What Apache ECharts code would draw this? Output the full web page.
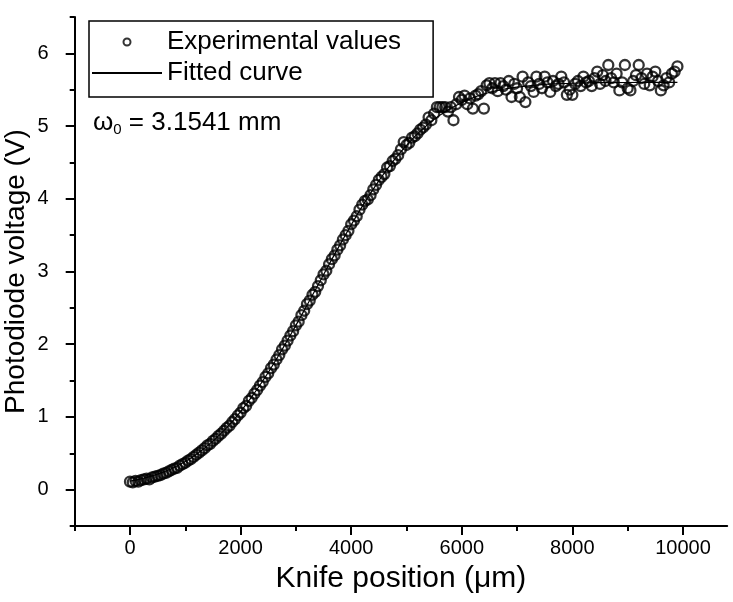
<!DOCTYPE html>
<html>
<head>
<meta charset="utf-8">
<style>html,body{margin:0;padding:0;background:#fff;}#c{width:733px;height:602px;}</style>
<script src="https://cdn.jsdelivr.net/npm/echarts@6/dist/echarts.min.js"></script>
</head>
<body>
<div id="c"></div>
<script>
// Experimental knife-edge scan (knife position in µm, photodiode voltage in V)
const expX = [0,50,100,150,200,250,300,350,400,450,500,550,600,650,700,750,800,850,900,950,
1000,1050,1100,1150,1200,1250,1300,1350,1400,1450,1500,1550,1600,1650,1700,1750,1800,1850,1900,1950,
2000,2050,2100,2150,2200,2250,2300,2350,2400,2450,2500,2550,2600,2650,2700,2750,2800,2850,2900,2950,
3000,3050,3100,3150,3200,3250,3300,3350,3400,3450,3500,3550,3600,3650,3700,3750,3800,3850,3900,3950,
4000,4050,4100,4150,4200,4250,4300,4350,4400,4450,4500,4550,4600,4650,4700,4750,4800,4850,4900,4950,
5000,5050,5100,5150,5200,5250,5300,5350,5400,5450,5500,5550,5600,5650,5700,5750,5800,5850,5900,5950,
6000,6050,6100,6150,6200,6250,6300,6350,6400,6450,6500,6550,6600,6650,6700,6750,6800,6850,6900,6950,
7000,7050,7100,7150,7200,7250,7300,7350,7400,7450,7500,7550,7600,7650,7700,7750,7800,7850,7900,7950,
8000,8050,8100,8150,8200,8250,8300,8350,8400,8450,8500,8550,8600,8650,8700,8750,8800,8850,8900,8950,
9000,9050,9100,9150,9200,9250,9300,9350,9400,9450,9500,9550,9600,9650,9700,9750,9800,9850,9900];
const expV = [0.11,0.10,0.12,0.11,0.13,0.14,0.15,0.14,0.17,0.18,0.19,0.20,0.22,0.23,0.25,0.27,0.29,0.30,0.33,0.35,
0.37,0.40,0.42,0.45,0.48,0.51,0.54,0.57,0.61,0.63,0.67,0.70,0.74,0.77,0.81,0.85,0.88,0.93,0.97,1.02,
1.06,1.12,1.15,1.22,1.26,1.32,1.37,1.43,1.48,1.55,1.60,1.67,1.72,1.79,1.85,1.93,1.98,2.05,2.12,2.18,
2.26,2.31,2.40,2.46,2.55,2.60,2.68,2.72,2.80,2.88,2.96,3.01,3.10,3.17,3.22,3.30,3.36,3.44,3.50,3.56,
3.65,3.70,3.76,3.85,3.92,3.97,3.99,4.05,4.13,4.19,4.26,4.30,4.34,4.43,4.45,4.52,4.55,4.60,4.68,4.78,
4.74,4.77,4.84,4.86,4.90,4.95,4.98,5.02,5.12,5.08,5.17,5.26,5.26,5.26,5.26,5.20,5.26,5.08,5.30,5.40,
5.36,5.42,5.30,5.38,5.24,5.42,5.44,5.48,5.24,5.56,5.59,5.52,5.59,5.48,5.59,5.55,5.50,5.62,5.40,5.58,
5.52,5.40,5.68,5.33,5.60,5.55,5.47,5.68,5.58,5.52,5.68,5.60,5.47,5.62,5.55,5.58,5.68,5.60,5.43,5.50,
5.43,5.58,5.62,5.55,5.68,5.60,5.62,5.55,5.66,5.75,5.58,5.70,5.62,5.84,5.66,5.60,5.72,5.49,5.60,5.84,
5.52,5.49,5.62,5.70,5.84,5.66,5.58,5.72,5.56,5.68,5.75,5.62,5.49,5.56,5.66,5.60,5.72,5.75,5.82];
// Fitted curve
const fitX = [0,250,500,750,1000,1250,1500,1750,2000,2250,2500,2750,3000,3250,3500,3750,4000,4250,4500,4750,
5000,5250,5500,5750,6000,6250,6500,6750,7000,7500,8000,8500,9000,9500,9900];
const fitV = [0.116,0.157,0.214,0.288,0.387,0.515,0.667,0.852,1.074,1.328,1.611,1.926,2.259,2.605,2.956,3.304,3.640,3.957,4.247,4.507,
4.734,4.930,5.092,5.220,5.323,5.403,5.463,5.506,5.535,5.573,5.589,5.597,5.599,5.600,5.600];
// Tick values
const xMajor = [0,2000,4000,6000,8000,10000];
const xMinor = [-1000,1000,3000,5000,7000,9000];
const yMajor = [0,1,2,3,4,5,6];
const yMinor = [-0.5,0.5,1.5,2.5,3.5,4.5,5.5,6.5];

const FONT = '"Liberation Sans", Arial, Helvetica, sans-serif';
const chart = echarts.init(document.getElementById('c'), null, {renderer: 'canvas'});
const xCommon = {type: 'value', min: -1000, max: 10800, splitLine: {show: false}, gridIndex: 0, position: 'bottom'};
const yCommon = {type: 'value', min: -0.5, max: 6.5, splitLine: {show: false}, gridIndex: 0, position: 'left'};
chart.setOption({
  animation: false,
  backgroundColor: '#fff',
  textStyle: {fontFamily: FONT},
  grid: {left: 74.7, right: 5.8, top: 17, bottom: 76, containLabel: false, outerBoundsMode: 'none'},
  xAxis: [
    Object.assign({}, xCommon, {
      axisLine: {show: true, onZero: false, lineStyle: {color: '#000', width: 2}},
      axisTick: {show: true, length: 5, customValues: xMinor, lineStyle: {color: '#000', width: 2}},
      axisLabel: {show: false}
    }),
    Object.assign({}, xCommon, {
      name: 'Knife position (\u03bcm)', nameLocation: 'middle', nameGap: 38, nameMoveOverlap: false,
      nameTextStyle: {fontSize: 30, color: '#000', fontFamily: FONT},
      axisLine: {show: false, onZero: false},
      axisTick: {show: true, length: 9, customValues: xMajor, lineStyle: {color: '#000', width: 2}},
      axisLabel: {show: true, customValues: xMajor, margin: 12, fontSize: 20, color: '#000', fontFamily: FONT,
        formatter: v => String(v)}
    })
  ],
  yAxis: [
    Object.assign({}, yCommon, {
      axisLine: {show: true, onZero: false, lineStyle: {color: '#000', width: 2}},
      axisTick: {show: true, length: 5, customValues: yMinor, lineStyle: {color: '#000', width: 2}},
      axisLabel: {show: false}
    }),
    Object.assign({}, yCommon, {
      name: 'Photodiode voltage (V)', nameLocation: 'middle', nameGap: 44, nameMoveOverlap: false,
      nameTextStyle: {fontSize: 28, color: '#000', fontFamily: FONT},
      axisLine: {show: false, onZero: false},
      axisTick: {show: true, length: 9, customValues: yMajor, lineStyle: {color: '#000', width: 2}},
      axisLabel: {show: true, customValues: yMajor, margin: 26, fontSize: 20, color: '#000', fontFamily: FONT,
        formatter: v => String(v)}
    })
  ],
  legend: {
    left: 89, top: 21, orient: 'vertical', itemWidth: 70, itemHeight: 7, itemGap: 5,
    padding: [8, 32, 11, 2], borderColor: '#000', borderWidth: 1.5, backgroundColor: '#fff',
    textStyle: {fontSize: 26, lineHeight: 26, color: '#000', fontFamily: FONT},
    data: [
      {name: 'Experimental values'},
      {name: 'Fitted curve', itemStyle: {opacity: 0}}
    ]
  },
  graphic: [{
    type: 'text', left: 93, top: 108, z: 100,
    style: {
      text: '{a|\u03c9}{b|0}{a| = 3.1541 mm}',
      rich: {
        a: {fontSize: 26, fontFamily: FONT, fill: '#000', lineHeight: 30},
        b: {fontSize: 15, fontFamily: FONT, fill: '#000', lineHeight: 30, padding: [14, 0, 0, 0]}
      }
    }
  }],
  series: [
    {
      name: 'Experimental values', type: 'scatter', xAxisIndex: 0, yAxisIndex: 0,
      symbol: 'circle', symbolSize: 10,
      itemStyle: {color: 'rgba(255,255,255,0)', borderColor: '#000', borderWidth: 2.3},
      data: expX.map((x, i) => [x, expV[i]]), z: 2
    },
    {
      name: 'Fitted curve', type: 'line', xAxisIndex: 0, yAxisIndex: 0,
      symbol: 'none', smooth: true,
      lineStyle: {color: '#000', width: 1.2},
      itemStyle: {color: '#000'},
      data: fitX.map((x, i) => [x, fitV[i]]), z: 3
    }
  ]
});
</script>
</body>
</html>
